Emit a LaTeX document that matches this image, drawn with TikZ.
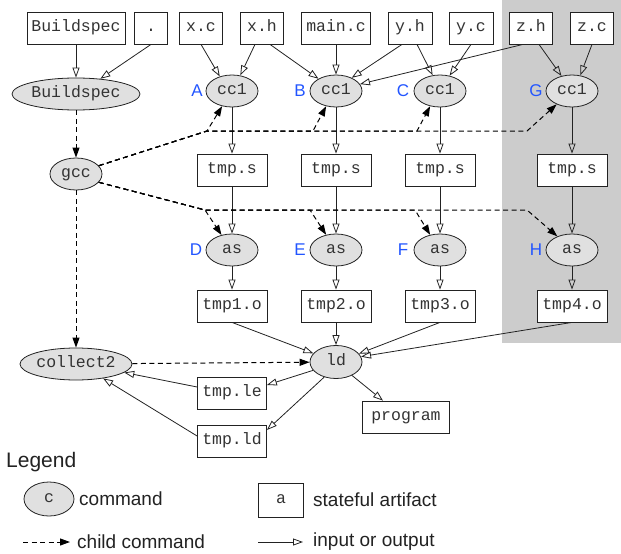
\documentclass[tikz,border=0pt]{standalone}
\usepackage{fontspec}
\setmainfont{Liberation Sans}
\newfontfamily\monof{Liberation Mono}
\usetikzlibrary{arrows.meta,shapes.geometric}
\definecolor{linec}{HTML}{222222}
\definecolor{textc}{HTML}{333333}
\definecolor{cmdfill}{HTML}{E0E0E0}
\definecolor{bandc}{HTML}{CCCCCC}
\definecolor{lblblue}{HTML}{2255FF}
\tikzset{
  art/.style={draw=linec, fill=white, line width=0.8pt, minimum height=32pt, inner sep=0pt,
    text height=11pt, text depth=3.5pt,
    text=textc, font=\monof\fontsize{16.5}{18}\selectfont},
  cmd/.style={ellipse, draw=linec, fill=cmdfill, line width=0.8pt, minimum width=52pt,
    minimum height=32pt, inner sep=0pt, text height=11pt, text depth=3.5pt,
    text=textc, font=\monof\fontsize{16.5}{18}\selectfont},
  io/.style={draw=linec, line width=0.8pt, -{Triangle[open, length=10pt, width=7pt]}},
  child/.style={draw=black, line width=1pt, dash pattern=on 5pt off 3.5pt,
    -{Triangle[length=10pt, width=7pt]}},
  lbl/.style={text=lblblue, inner sep=0pt, font=\fontsize{17}{18}\selectfont},
  legtext/.style={text=linec, inner sep=0pt, anchor=west, font=\fontsize{19}{22}\selectfont}
}
\begin{document}
\begin{tikzpicture}[x=1pt, y=-1pt]
\useasboundingbox (0,0) rectangle (621,554);
\fill[bandc] (502,0) rectangle (621,343);

% top row artifacts
\node[art, minimum width=98pt] (bsB) at (76,28) {Buildspec};
\node[art, minimum width=33pt] (dot) at (151,28) {.};
\node[art, minimum width=43pt] (xc) at (201,28) {x.c};
\node[art, minimum width=43pt] (xh) at (262,28) {x.h};
\node[art, minimum width=69pt] (mainc) at (336,28) {main.c};
\node[art, minimum width=44pt] (yh) at (410,28) {y.h};
\node[art, minimum width=44pt] (yc) at (471,28) {y.c};
\node[art, minimum width=43pt] (zh) at (531,28) {z.h};
\node[art, minimum width=43pt] (zc) at (592,28) {z.c};

% commands
\node[cmd, minimum width=128pt] (bsE) at (76,94) {Buildspec};
\node[cmd] (gcc) at (76,174) {gcc};
\node[cmd] (A) at (232,91) {cc1};
\node[cmd] (B) at (336,91) {cc1};
\node[cmd] (C) at (440,91) {cc1};
\node[cmd] (G) at (572,91) {cc1};
\node[cmd] (D) at (232,250) {as};
\node[cmd] (E) at (336,250) {as};
\node[cmd] (F) at (440,250) {as};
\node[cmd] (H) at (572,250) {as};
\node[cmd, minimum height=33pt] (ld) at (336,362) {ld};
\node[cmd, minimum width=105pt] (col) at (76,364) {collect2};

% labels
\node[lbl] (lA) at (197,91) {A};
\node[lbl] (lB) at (300,91) {B};
\node[lbl] (lC) at (403,91) {C};
\node[lbl] (lG) at (536,91) {G};
\node[lbl] (lD) at (196,250) {D};
\node[lbl] (lE) at (300,250) {E};
\node[lbl] (lF) at (403,250) {F};
\node[lbl] (lH) at (536,250) {H};

% intermediate artifacts
\node[art, minimum width=70pt] (s1) at (232,170) {tmp.s};
\node[art, minimum width=70pt] (s2) at (336,170) {tmp.s};
\node[art, minimum width=70pt] (s3) at (440,170) {tmp.s};
\node[art, minimum width=70pt] (s4) at (572,170) {tmp.s};
\node[art, minimum width=70pt] (o1) at (232,306) {tmp1.o};
\node[art, minimum width=70pt] (o2) at (336,306) {tmp2.o};
\node[art, minimum width=70pt] (o3) at (440,306) {tmp3.o};
\node[art, minimum width=70pt] (o4) at (572,306) {tmp4.o};
\node[art, minimum width=69pt] (tle) at (232,393) {tmp.le};
\node[art, minimum width=69pt] (tld) at (232,441) {tmp.ld};
\node[art, minimum width=87pt] (prog) at (406,417) {program};

% input / output edges
\draw[io] (bsB) -- (bsE);
\draw[io] (dot.south) -- (bsE.32);
\draw[io] (xc.south) -- (A.130);
\draw[io] ([xshift=-7pt]xh.south) -- (A.62);
\draw[io] ([xshift=8pt]xh.south) -- (B.145);
\draw[io] (mainc) -- (B);
\draw[io] ([xshift=-8pt]yh.south) -- (B.40);
\draw[io] ([xshift=-8pt]zh.south) -- (B.16);
\draw[io] ([xshift=7pt]yh.south) -- (C.115);
\draw[io] (yc.south) -- (C.58);
\draw[io] ([xshift=8pt]zh.south) -- (G.125);
\draw[io] (zc.south) -- (G.62);
\draw[io] (A) -- (s1);
\draw[io] (B) -- (s2);
\draw[io] (C) -- (s3);
\draw[io] (G) -- (s4);
\draw[io] (s1) -- (D);
\draw[io] (s2) -- (E);
\draw[io] (s3) -- (F);
\draw[io] (s4) -- (H);
\draw[io] (D) -- (o1);
\draw[io] (E) -- (o2);
\draw[io] (F) -- (o3);
\draw[io] (H) -- (o4);
\draw[io] (o1.south) -- (ld.159);
\draw[io] (o2) -- (ld);
\draw[io] (o3.south) -- (ld.20);
\draw[io] (o4.south) -- (ld.12);
\draw[io] (ld.200) -- ([yshift=8pt]tle.east);
\draw[io] (ld.232) -- ([yshift=11pt]tld.east);
\draw[io] (ld.-40) -- ([xshift=-23pt]prog.north);
\draw[io] ([yshift=6pt]tle.west) -- (col.-10);
\draw[io] ([yshift=5pt]tld.west) -- (col.-28);

% child command edges
\coordinate (k1) at (207,131);
\coordinate (k1b) at (313,131);
\coordinate (k1c) at (417,131);
\coordinate (k1g) at (527,131);
\coordinate (k2) at (205,210);
\coordinate (k2e) at (310,210);
\coordinate (k2f) at (415,210);
\coordinate (k2h) at (527,210);
\draw[child] (bsE) -- (gcc);
\draw[child] (gcc) -- (col);
\draw[child] (col) -- (ld);
\draw[child] (gcc.20) -- (k1) -- (A.237);
\draw[child] (gcc.20) -- (k1) -- (k1b) -- (B.237);
\draw[child] (gcc.20) -- (k1) -- (k1c) -- (C.237);
\draw[child] (gcc.20) -- (k1) -- (k1g) -- (G.221);
\draw[child] (gcc.-20) -- (k2) -- (D.125);
\draw[child] (gcc.-20) -- (k2) -- (k2e) -- (E.123);
\draw[child] (gcc.-20) -- (k2) -- (k2f) -- (F.123);
\draw[child] (gcc.-20) -- (k2) -- (k2h) -- (H.137);

% legend
\node[text=linec, inner sep=0pt, anchor=west, font=\fontsize{21}{24}\selectfont] (leg) at (6,462) {Legend};
\node[cmd, minimum width=50pt, minimum height=34pt] (lc) at (49,499) {c};
\node[legtext] (lct) at (79,499) {command};
\node[art, minimum width=45pt, minimum height=34pt] (la) at (281,500) {a};
\node[legtext] (lat) at (313,500) {stateful artifact};
\coordinate (l1a) at (23,542);
\coordinate (l1b) at (70,542);
\draw[child] (l1a) -- (l1b);
\node[legtext] (l1t) at (77,542) {child command};
\coordinate (l2a) at (258,542);
\coordinate (l2b) at (303,542);
\draw[io] (l2a) -- (l2b);
\node[legtext] (l2t) at (313,542) {input or output};
\end{tikzpicture}
\end{document}
